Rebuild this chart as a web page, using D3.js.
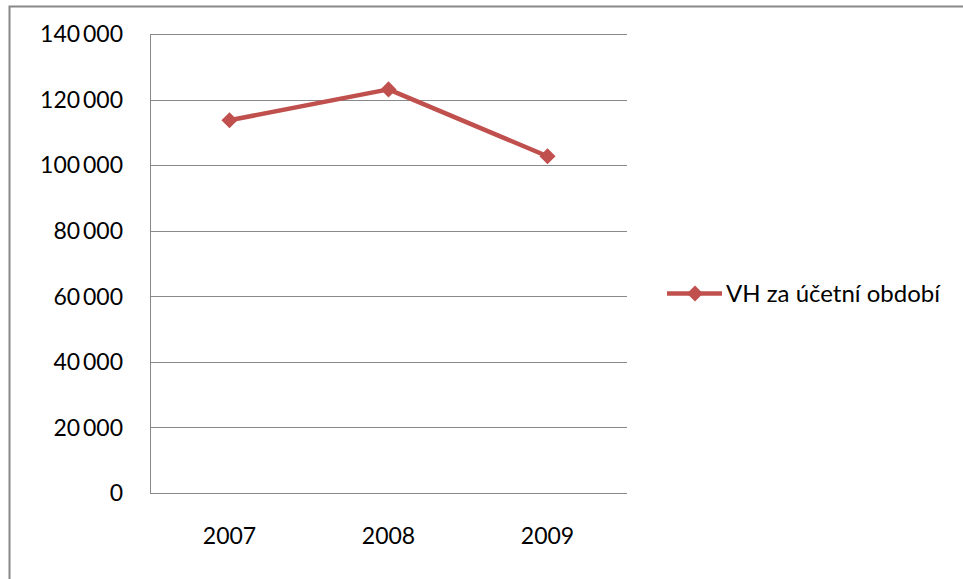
<!DOCTYPE html>
<html>
<head>
<meta charset="utf-8">
<script src="https://cdn.jsdelivr.net/npm/d3@7/dist/d3.min.js"></script>
<style>
  html, body { margin: 0; padding: 0; background: #fff; }
  svg { display: block; }
  text { font-family: Lato, "Open Sans", sans-serif; fill: #000; }
</style>
</head>
<body>
<svg id="chart" width="963" height="579"></svg>
<script>
// Hospodářský výsledek za účetní období
const years = ["2007", "2008", "2009"];
const values = [113700, 123100, 102700];
const yTicks = [0, 20000, 40000, 60000, 80000, 100000, 120000, 140000];
const seriesName = "VH za účetní období";

const W = 963, H = 579;
const plot = { left: 150, right: 627, top: 34, bottom: 493 };
const red = "#C0504D", grid = "#888888";

const svg = d3.select("#chart");

// outer chart frame
svg.append("rect")
  .attr("x", 9.5).attr("y", 6.5)
  .attr("width", W + 20).attr("height", H + 20)
  .attr("fill", "#fff").attr("stroke", grid).attr("stroke-width", 2);

const x = d3.scaleBand().domain(years).range([plot.left, plot.right]);
const y = d3.scaleLinear().domain([0, 140000]).range([plot.bottom, plot.top]);

const fmt = v => d3.format(",")(v).replace(/,/g, "\u2009");

// horizontal gridlines
svg.append("g").selectAll("line").data(yTicks).join("line")
  .attr("x1", plot.left).attr("x2", plot.right)
  .attr("y1", d => Math.round(y(d)) + 0.5).attr("y2", d => Math.round(y(d)) + 0.5)
  .attr("stroke", grid).attr("stroke-width", 1);

// vertical axis line
svg.append("line")
  .attr("x1", plot.left + 0.5).attr("x2", plot.left + 0.5)
  .attr("y1", plot.top).attr("y2", plot.bottom)
  .attr("stroke", grid).attr("stroke-width", 1);

// y tick labels
svg.append("g").selectAll("text").data(yTicks).join("text")
  .attr("x", 123).attr("y", d => y(d))
  .attr("dy", "0.36em")
  .attr("text-anchor", "end")
  .attr("font-size", 23)
  .text(fmt);

// x tick labels
svg.append("g").selectAll("text").data(years).join("text")
  .attr("x", d => x(d) + x.bandwidth() / 2).attr("y", 544)
  .attr("text-anchor", "middle")
  .attr("font-size", 23)
  .text(d => d);

// series line
const pts = years.map((yr, i) => [x(yr) + x.bandwidth() / 2, y(values[i])]);
svg.append("path")
  .attr("d", d3.line()(pts))
  .attr("fill", "none").attr("stroke", red)
  .attr("stroke-width", 4.5).attr("stroke-linejoin", "round");

const diamond = d3.symbol().type(d3.symbolDiamond2).size(165);
svg.append("g").selectAll("path").data(pts).join("path")
  .attr("transform", d => `translate(${d[0]},${d[1]})`)
  .attr("d", diamond)
  .attr("fill", red);

// legend
const lg = svg.append("g").attr("transform", "translate(667,293.5)");
lg.append("line").attr("x1", 0).attr("x2", 55).attr("y1", 0).attr("y2", 0)
  .attr("stroke", red).attr("stroke-width", 4.5);
lg.append("path").attr("transform", "translate(28,0)").attr("d", diamond).attr("fill", red);
lg.append("text").attr("x", 59).attr("y", 0).attr("dy", "0.36em")
  .attr("font-size", 24).text(seriesName);
</script>
</body>
</html>
